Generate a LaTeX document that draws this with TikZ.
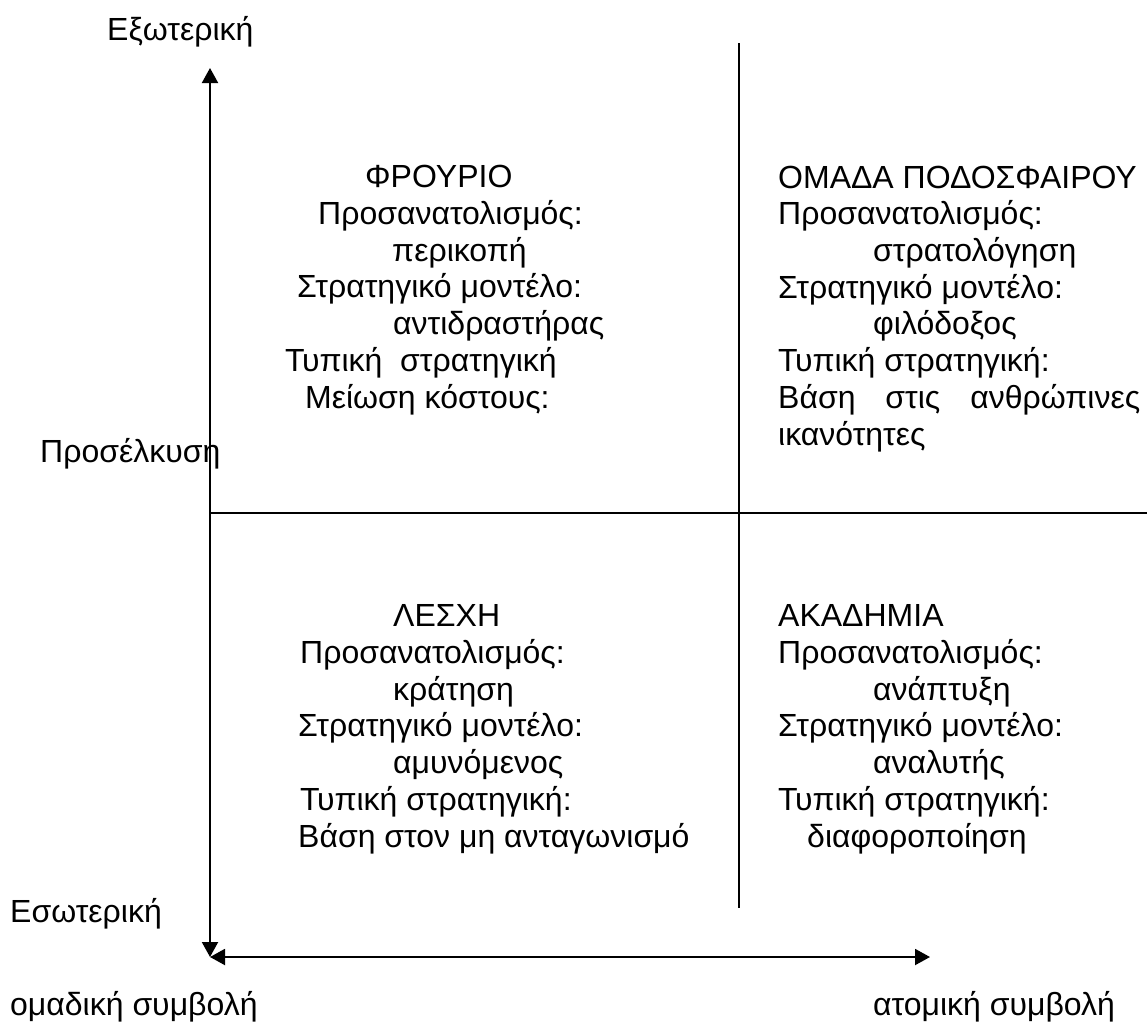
\documentclass[tikz,border=0pt]{standalone}
\usepackage{fontspec}
\setmainfont{Liberation Sans}
\usetikzlibrary{arrows.meta}

\begin{document}
\begin{tikzpicture}[x=1pt, y=-1pt,
    every node/.style={inner sep=0pt, font=\fontsize{32}{36.7}\selectfont},
    quadtext/.style={anchor=base west, align=left},
    axislabel/.style={anchor=base west},
    axisline/.style={line width=2pt, {Triangle[width=16pt,length=15pt]}-{Triangle[width=16pt,length=15pt]}},
    divider/.style={line width=2pt}]
    \useasboundingbox (0,0) rectangle (1147,1028);
    % Axes
    \coordinate (top) at (210,68);
    \coordinate (origin) at (210,957);
    \coordinate (xend) at (930,957);
    \draw[axisline] (top) -- (origin);
    \draw[axisline] (origin) -- (xend);
    % Quadrant lines
    \coordinate (vtop) at (739,43);
    \coordinate (vbot) at (739,908);
    \coordinate (hleft) at (210,513);
    \coordinate (hright) at (1147,513);
    \draw[divider] (vtop) -- (vbot);
    \draw[divider] (hleft) -- (hright);
    % Axis labels
    \node[axislabel] (ext) at (107,40) {Εξωτερική};
    \node[axislabel] (attr) at (40,462) {Προσέλκυση};
    \node[axislabel] (int) at (10,922) {Εσωτερική};
    \node[axislabel] (group) at (10,1015) {ομαδική συμβολή};
    \node[axislabel] (indiv) at (873,1015) {ατομική συμβολή};
    % Quadrants (base = last line)
    \node[quadtext] (fort) at (285,408) {\hspace*{80pt}ΦΡΟΥΡΙΟ\\
        \hspace*{33pt}Προσανατολισμός:\\
        \hspace*{107pt}περικοπή\\
        \hspace*{12pt}Στρατηγικό μοντέλο:\\
        \hspace*{108pt}αντιδραστήρας\\
        Τυπική~ στρατηγική\\
        \hspace*{20pt}Μείωση κόστους:};
    \node[quadtext] (team) at (778,445) {ΟΜΑΔΑ ΠΟΔΟΣΦΑΙΡΟΥ\\
        Προσανατολισμός:\\
        \hspace*{95pt}στρατολόγηση\\
        Στρατηγικό μοντέλο:\\
        \hspace*{95pt}φιλόδοξος\\
        Τυπική στρατηγική:\\
        \makebox[362pt][l]{Βάση\hfill στις\hfill ανθρώπινες}\\
        ικανότητες};
    \node[quadtext] (club) at (298,847) {\hspace*{95pt}ΛΕΣΧΗ\\
        \hspace*{2pt}Προσανατολισμός:\\
        \hspace*{95pt}κράτηση\\
        Στρατηγικό μοντέλο:\\
        \hspace*{95pt}αμυνόμενος\\
        \hspace*{2pt}Τυπική στρατηγική:\\
        Βάση στον μη ανταγωνισμό};
    \node[quadtext] (acad) at (778,847) {ΑΚΑΔΗΜΙΑ\\
        Προσανατολισμός:\\
        \hspace*{95pt}ανάπτυξη\\
        Στρατηγικό μοντέλο:\\
        \hspace*{95pt}αναλυτής\\
        Τυπική στρατηγική:\\
        \hspace*{29pt}διαφοροποίηση};
\end{tikzpicture}
\end{document}
